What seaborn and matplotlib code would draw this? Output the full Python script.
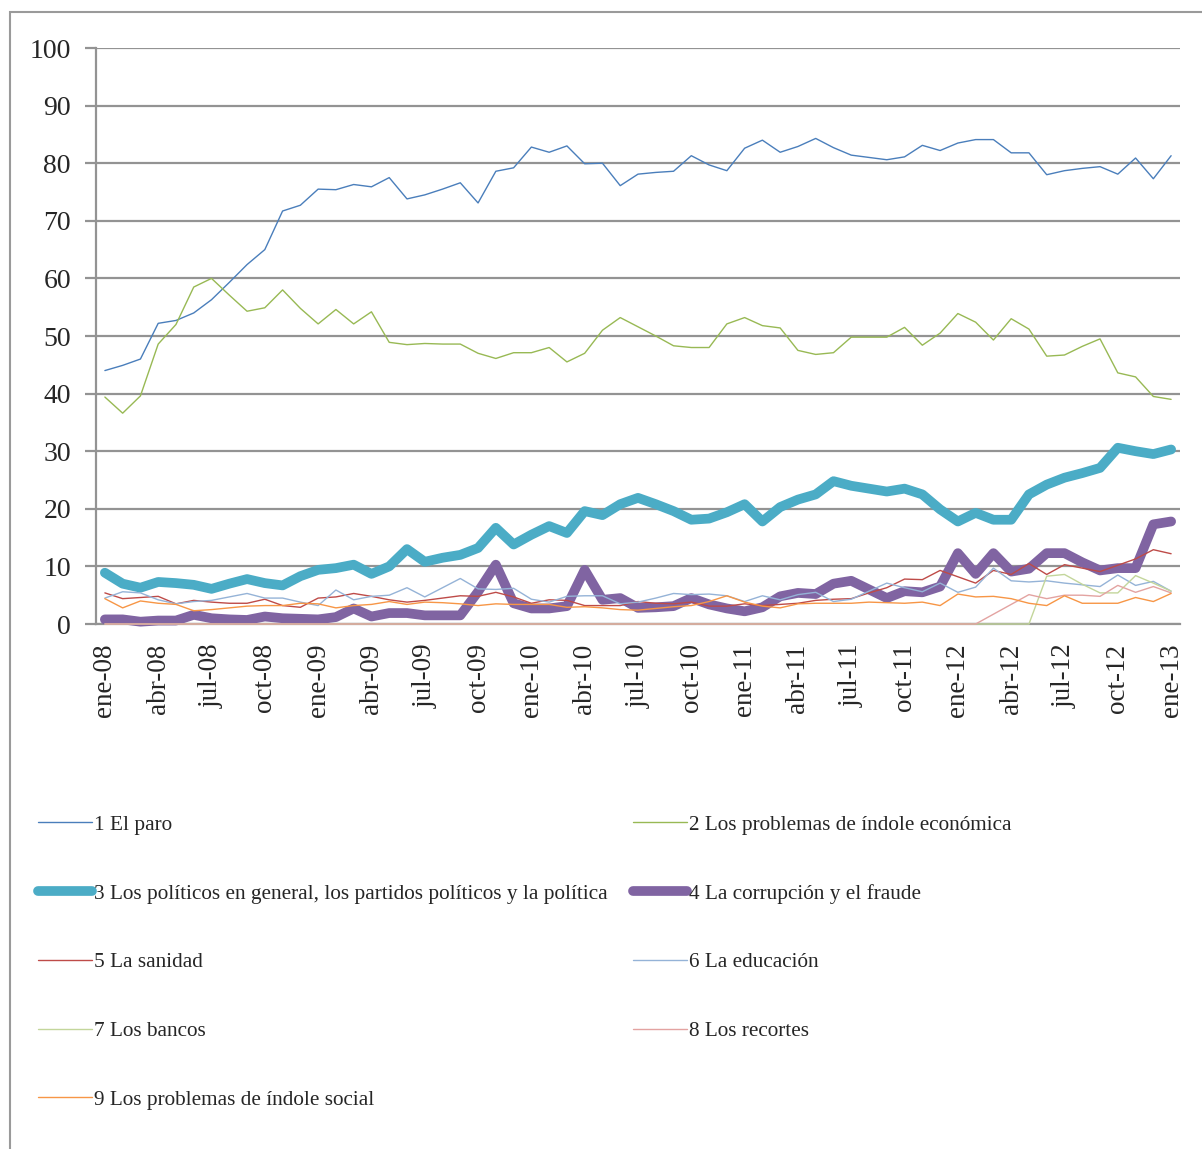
import matplotlib
matplotlib.use("Agg")
import matplotlib.pyplot as plt
import seaborn as sns
import numpy as np
import pandas as pd
from matplotlib.patches import Rectangle

sns.set_theme(style="white")
plt.rcParams['font.family'] = ['Liberation Serif', 'DejaVu Serif']

# ---------------- data ----------------
months_es = ["ene", "feb", "mar", "abr", "may", "jun", "jul", "ago", "sep", "oct", "nov", "dic"]
dates = [f"{months_es[m]}-{y:02d}" for y in range(8, 13) for m in range(12)] + ["ene-13"]

paro = [44.0, 44.9, 46.0, 52.2, 52.7, 54.0, 56.3, 59.3, 62.4, 65.0,
        71.7, 72.7, 75.5, 75.4, 76.3, 75.9, 77.5, 73.8, 74.5, 75.5,
        76.6, 73.1, 78.6, 79.2, 82.8, 81.9, 83.0, 79.9, 80.0, 76.1,
        78.1, 78.4, 78.6, 81.3, 79.7, 78.7, 82.6, 84.0, 81.9, 82.9,
        84.3, 82.7, 81.4, 81.0, 80.6, 81.1, 83.1, 82.2, 83.5, 84.1,
        84.1, 81.8, 81.8, 78.0, 78.7, 79.1, 79.4, 78.1, 80.9, 77.3,
        81.3]
economica = [39.4, 36.6, 39.6, 48.6, 52.0, 58.5, 60.0, 57.1, 54.3, 54.9,
             58.0, 54.8, 52.1, 54.6, 52.1, 54.2, 48.9, 48.5, 48.7, 48.6,
             48.6, 47.0, 46.1, 47.1, 47.1, 48.0, 45.5, 47.0, 51.0, 53.2,
             51.6, 50.0, 48.3, 48.0, 48.0, 52.1, 53.2, 51.8, 51.4, 47.5,
             46.8, 47.1, 49.8, 49.8, 49.8, 51.5, 48.4, 50.5, 53.9, 52.4,
             49.3, 53.0, 51.2, 46.5, 46.7, 48.2, 49.5, 43.6, 42.9, 39.5,
             39.0]
politicos = [8.9, 7.0, 6.3, 7.3, 7.1, 6.8, 6.1, 7.0, 7.8, 7.1,
             6.7, 8.3, 9.4, 9.7, 10.3, 8.7, 10.0, 13.0, 10.8, 11.5,
             12.0, 13.2, 16.7, 13.8, 15.5, 17.0, 15.8, 19.6, 18.9, 20.8,
             21.9, 20.8, 19.6, 18.1, 18.3, 19.4, 20.8, 17.8, 20.3, 21.6,
             22.5, 24.8, 24.0, 23.5, 23.0, 23.5, 22.5, 19.9, 17.8, 19.3,
             18.1, 18.1, 22.5, 24.2, 25.4, 26.2, 27.1, 30.6, 30.0, 29.5,
             30.3]
corrupcion = [0.8, 0.8, 0.4, 0.6, 0.6, 1.6, 1.0, 0.8, 0.7, 1.3,
              1.0, 0.9, 0.8, 1.2, 2.7, 1.3, 1.9, 1.9, 1.5, 1.5,
              1.5, 5.6, 10.3, 3.6, 2.7, 2.7, 3.1, 9.4, 4.2, 4.5,
              2.8, 2.9, 3.1, 4.5, 3.4, 2.7, 2.2, 2.9, 4.8, 5.4,
              5.2, 7.0, 7.5, 6.0, 4.5, 5.7, 5.5, 6.5, 12.3, 8.7,
              12.3, 9.1, 9.6, 12.3, 12.3, 10.7, 9.3, 9.7, 9.7, 17.3,
              17.8]
sanidad = [5.4, 4.4, 4.6, 4.8, 3.5, 4.1, 3.8, 3.6, 3.6, 4.3,
           3.2, 2.9, 4.5, 4.7, 5.3, 4.8, 4.2, 3.8, 4.1, 4.5,
           4.9, 4.8, 5.5, 4.7, 3.6, 4.2, 4.1, 3.2, 3.2, 3.2,
           3.9, 3.6, 3.5, 3.8, 3.1, 3.1, 3.5, 3.2, 3.4, 3.6,
           4.1, 4.3, 4.4, 5.4, 6.3, 7.8, 7.7, 9.3, 8.2, 7.1,
           9.3, 8.6, 10.5, 8.6, 10.3, 9.7, 9.1, 10.2, 11.3, 12.9,
           12.2]
educacion = [4.5, 5.6, 5.4, 4.2, 3.5, 3.9, 4.1, 4.7, 5.3, 4.5,
             4.5, 3.8, 3.2, 5.9, 4.2, 4.8, 5.0, 6.3, 4.7, 6.3,
             7.9, 6.1, 6.0, 6.2, 4.3, 3.8, 4.8, 4.9, 4.9, 3.5,
             3.8, 4.5, 5.3, 5.1, 5.2, 4.9, 3.9, 4.9, 4.2, 5.1,
             5.5, 3.9, 4.3, 5.7, 7.1, 6.3, 5.6, 7.1, 5.5, 6.4,
             9.7, 7.5, 7.3, 7.5, 7.1, 6.8, 6.5, 8.5, 6.7, 7.4,
             5.7]
bancos = [0.0] * 53 + [8.3, 8.6, 6.9, 5.4, 5.4, 8.4, 7.1, 5.7]
recortes = [0.0] * 50 + [1.7, 3.4, 5.1, 4.4, 5.0, 5.0, 4.8, 6.7, 5.5, 6.5, 5.4]
social = [4.4, 2.8, 4.0, 3.6, 3.4, 2.3, 2.5, 2.8, 3.1, 3.2,
          3.2, 3.6, 3.5, 2.8, 3.2, 3.4, 3.9, 3.4, 3.8, 3.7,
          3.5, 3.2, 3.5, 3.4, 3.4, 3.4, 2.9, 3.0, 2.8, 2.5,
          2.4, 2.7, 3.0, 3.2, 3.9, 4.9, 3.8, 3.1, 2.8, 3.5,
          3.6, 3.6, 3.6, 3.8, 3.7, 3.6, 3.8, 3.2, 5.2, 4.7,
          4.8, 4.4, 3.6, 3.2, 4.9, 3.6, 3.6, 3.6, 4.6, 3.9,
          5.3]

labels = ["1 El paro",
          "2 Los problemas de índole económica",
          "3 Los políticos en general, los partidos políticos y la política",
          "4 La corrupción y el fraude",
          "5 La sanidad",
          "6 La educación",
          "7 Los bancos",
          "8 Los recortes",
          "9 Los problemas de índole social"]
series = [paro, economica, politicos, corrupcion, sanidad, educacion, bancos, recortes, social]
colors = ["#4A7EBB", "#98B954", "#4BACC6", "#8064A2", "#BE4B48",
          "#95B3D7", "#C3D69B", "#E3A3A1", "#F79646"]
widths = [1.0, 1.0, 7.0, 7.0, 1.0, 1.0, 1.0, 1.0, 1.0]

# ---------------- figure ----------------
W, H = 1202, 1149
fig = plt.figure(figsize=(W / 100, H / 100), dpi=100)
ax = fig.add_axes([96 / W, 1 - 624 / H, (1180 - 96) / W, (624 - 48) / H])

grid_c = "#939393"
x = np.arange(len(dates))
handles = []
for i, (vals, lab, col, lw) in enumerate(zip(series, labels, colors, widths)):
    df = pd.DataFrame({"x": x, "y": vals})
    sns.lineplot(data=df, x="x", y="y", ax=ax, color=col, linewidth=lw,
                 label=lab, zorder=3 + i, legend=False, clip_on=False,
                 solid_capstyle="round", solid_joinstyle="round")
    handles.append(ax.lines[-1])

ax.set_xlim(-0.5, len(dates) - 0.5)
ax.set_ylim(0, 100)
ax.set_yticks(np.arange(0, 101, 10))
ax.yaxis.grid(True, color=grid_c, linewidth=1.6)
ax.set_axisbelow(True)
for s in ["top", "right"]:
    ax.spines[s].set_visible(False)
for s in ["left", "bottom"]:
    ax.spines[s].set_color(grid_c)
    ax.spines[s].set_linewidth(1.6)
ax.set_xlabel("")
ax.set_ylabel("")

ax.set_xticks(x[::3])
ax.set_xticklabels(dates[::3], rotation=90, fontsize=19.5)
ax.set_xticks(np.arange(-0.5, len(dates), 3), minor=True)
ax.tick_params(axis="x", which="major", length=0, pad=14)
ax.tick_params(axis="x", which="minor", length=6, width=1.6, color=grid_c, direction="out")
ax.tick_params(axis="y", length=8, width=1.6, color=grid_c, labelsize=20, pad=10)
ax.tick_params(axis="both", bottom=True, left=True)

# outer chart border
fig.patches.append(Rectangle((10 / W, -0.01), (1300 - 10) / W, 1 - 12 / H + 0.01,
                             transform=fig.transFigure, fill=False,
                             edgecolor="#9a9a9a", linewidth=1.5))

order = [0, 2, 4, 6, 8, 1, 3, 5, 7]
leg = fig.legend([handles[k] for k in order], [labels[k] for k in order],
                 loc="upper left", bbox_to_anchor=(38 / W, 1 - 815 / H),
                 ncol=2, frameon=False, fontsize=15.3, borderaxespad=0, borderpad=0,
                 handlelength=2.55, handletextpad=0.08, labelspacing=2.3,
                 columnspacing=1.2)

fig.savefig("out.png", dpi=100)
